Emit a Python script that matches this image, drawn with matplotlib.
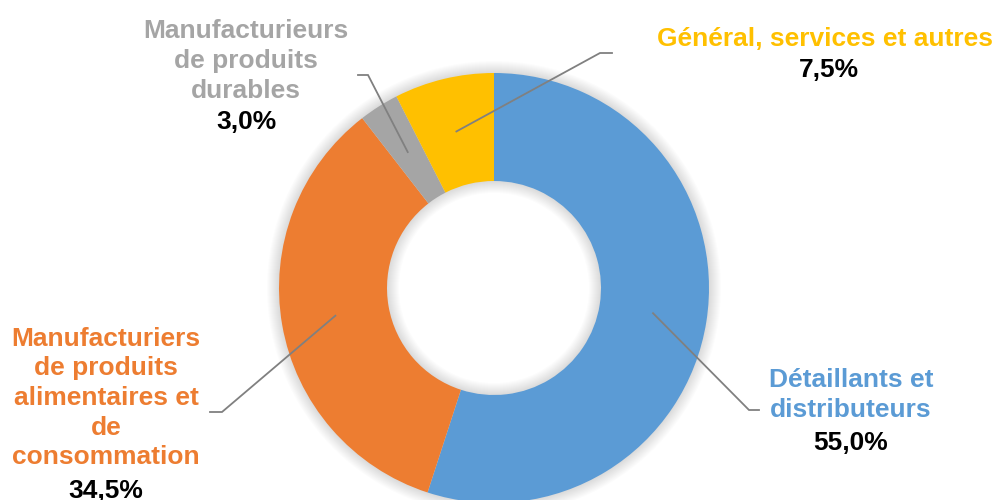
import matplotlib
matplotlib.use("Agg")
import numpy as np
import matplotlib.pyplot as plt
from matplotlib.patches import Wedge

# segments, clockwise from 12 o'clock
names = ["Détaillants et\ndistributeurs",
         "Manufacturiers\nde produits\nalimentaires et\nde\nconsommation",
         "Manufacturieurs\nde produits\ndurables",
         "Général, services et autres"]
values = [55.0, 34.5, 3.0, 7.5]
colors = ["#5B9BD5", "#ED7D31", "#A5A5A5", "#FFC000"]

# layout in picture pixels (y measured from the top)
W, H = 997, 500
cx, cy = 494, 288
R, ring = 215, 108
name_xy = [(851, 395), (106, 398), (246, 61), (825, 39)]
pct_xy = [(851, 443), (106, 491), (246, 122), (829, 70)]
elbows = [(749, 410), (222, 412), (368, 75), (600, 53)]
ends = [(759, 410), (210, 412), (358, 75), (612, 53)]

plt.rcParams['font.family'] = ['Liberation Sans', 'DejaVu Sans']

fig = plt.figure(figsize=(W / 100, H / 100), dpi=100)
ax = fig.add_axes([0, 0, 1, 1])

# soft glow round the ring
for k in range(1, 13):
    ax.add_patch(Wedge((cx, H - cy), R + k, 0, 360, width=ring + 2 * k,
                       facecolor='black', edgecolor='none', alpha=0.012, zorder=0))

wedges, _ = ax.pie(values, colors=colors, startangle=90, counterclock=False,
                   radius=R, center=(cx, H - cy),
                   wedgeprops=dict(width=ring, edgecolor='none', zorder=2))
ax.set_xlim(0, W)
ax.set_ylim(0, H)
ax.set_aspect('equal')
ax.axis('off')

def fy(y):
    return H - y

r_mid = R - ring / 2
for w, name, v, col, nxy, pxy, el, en in zip(wedges, names, values, colors,
                                             name_xy, pct_xy, elbows, ends):
    t = np.deg2rad((w.theta1 + w.theta2) / 2)
    ax_, ay_ = cx + r_mid * np.cos(t), (H - cy) + r_mid * np.sin(t)
    ax.plot([ax_, el[0], en[0]], [ay_, fy(el[1]), fy(en[1])],
            color="#808080", lw=1.3, solid_joinstyle='miter', zorder=3)
    ax.text(nxy[0], fy(nxy[1]), name, color=col, fontsize=19, fontweight='bold',
            ha='center', va='center', linespacing=1.3)
    ax.text(pxy[0], fy(pxy[1]), f"{v:.1f}%".replace('.', ','), color='black',
            fontsize=19, fontweight='bold', ha='center', va='center')

fig.savefig("out.png", dpi=100)
